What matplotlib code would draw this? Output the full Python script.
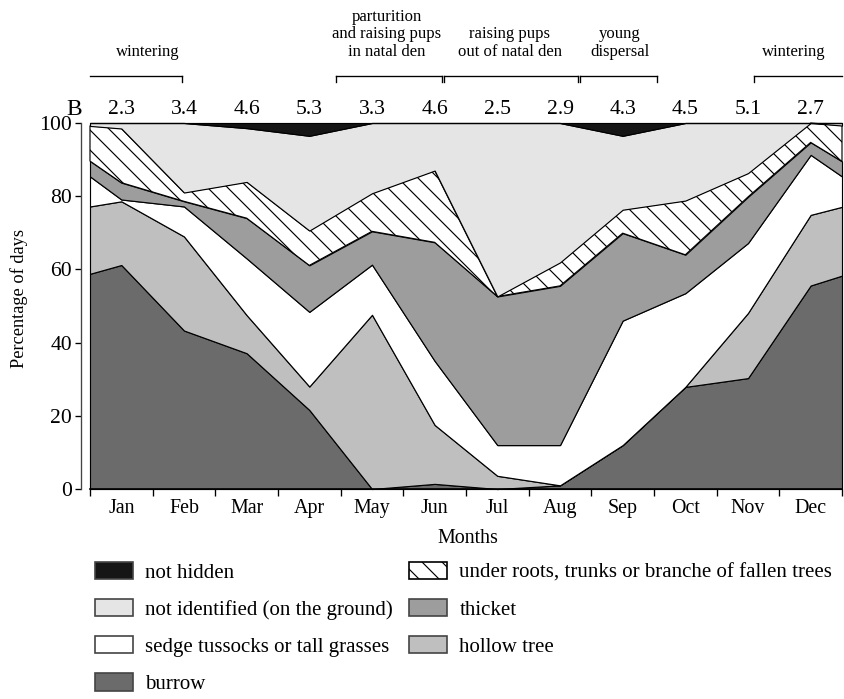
import numpy as np
import matplotlib.pyplot as plt
from matplotlib.patches import Patch

plt.rcParams['font.family'] = ['Liberation Serif', 'DejaVu Serif']
plt.rcParams['hatch.linewidth'] = 0.7

months = ['Jan', 'Feb', 'Mar', 'Apr', 'May', 'Jun', 'Jul', 'Aug', 'Sep', 'Oct', 'Nov', 'Dec']
b_values = ['2.3', '3.4', '4.6', '5.3', '3.3', '4.6', '2.5', '2.9', '4.3', '4.5', '5.1', '2.7']

# percentage of days; first and last value = year boundary at the plot edges, then Jan..Dec
burrow = [58.8, 61.2, 43.3, 37.1, 21.6, 0.0, 1.4, 0.0, 1.0, 12.0, 27.9, 30.3, 55.6, 58.3]
hollow_tree = [18.4, 17.4, 25.7, 10.4, 6.4, 47.6, 16.1, 3.6, 0.0, 0.0, 0.0, 17.8, 19.3, 18.8]
sedge = [8.2, 0.5, 8.2, 15.5, 20.4, 13.7, 17.5, 8.4, 11.0, 34.0, 25.6, 19.1, 16.4, 8.3]
thicket = [4.2, 4.6, 1.4, 11.0, 12.7, 9.1, 32.4, 40.6, 43.5, 23.9, 10.5, 12.6, 3.4, 4.1]
fallen_trees = [9.6, 14.8, 2.4, 9.9, 9.5, 10.4, 19.6, 0.0, 6.4, 6.4, 14.8, 6.5, 5.3, 9.8]
not_identified = [0.8, 1.5, 19.0, 14.7, 25.9, 19.2, 13.0, 47.4, 38.1, 20.2, 21.2, 13.7, 0.0, 0.7]
not_hidden = [0, 0, 0, 1.4, 3.5, 0, 0, 0, 0, 3.5, 0, 0, 0, 0]

# life periods (month units, 0 = middle of Jan)
period_labels = ['wintering', 'parturition\nand raising pups\nin natal den',
                 'raising pups\nout of natal den', 'young\ndispersal', 'wintering']
period_start = [-0.5, 3.42, 5.15, 7.32, 10.1]
period_end = [0.97, 5.12, 7.29, 8.55, 11.5]
period_text_x = [0.42, 4.24, 6.2, 7.95, 10.73]

x = [-0.5] + list(range(12)) + [11.5]

fig = plt.figure(figsize=(844 / 120, 699 / 120), dpi=120)
ax = fig.add_axes([90 / 844, 1 - 489 / 699, 752 / 844, 366 / 699])

layers = [burrow, hollow_tree, sedge, thicket, fallen_trees, not_identified, not_hidden]
colors = ['#6b6b6b', '#bebfbe', 'white', '#9d9d9d', 'white', '#e5e5e5', '#151515']
polys = ax.stackplot(x, layers, colors=colors, edgecolor='black', linewidth=0.7)
polys[4].set_hatch('\\\\')
for p in polys:
    p.set_clip_on(False)

ax.set_xlim(-0.5, 11.5)
ax.set_ylim(0, 100)
ax.spines[['top', 'right']].set_visible(False)
ax.spines['left'].set_position(('outward', 5.4))
ax.spines['left'].set_linewidth(0.8)
ax.spines['left'].set_color('#444444')
ax.spines['bottom'].set_linewidth(1.0)

ax.set_xticks(np.arange(-0.5, 12, 1))
ax.set_xticklabels([])
ax.set_xticks(range(12), minor=True)
ax.set_xticklabels(months, minor=True, fontsize=12)
ax.tick_params(axis='x', which='major', length=4, width=0.8)
ax.tick_params(axis='x', which='minor', length=0, pad=6)
ax.set_yticks(range(0, 101, 20))
ax.tick_params(axis='y', length=3.5, width=0.8, pad=2, labelsize=13)

ax.set_ylabel('Percentage of days', fontsize=11)
ax.yaxis.set_label_coords(-0.082, 0.52)
ax.set_xlabel('Months', fontsize=12)
ax.xaxis.set_label_coords(0.503, -0.11)

ax.text(-0.76, 103.6, 'B', ha='center', va='center', fontsize=14, clip_on=False)
for i, b in enumerate(b_values):
    ax.text(i, 103.6, b, ha='center', va='center', fontsize=13, clip_on=False)

for k, lab in enumerate(period_labels):
    s, e = period_start[k], period_end[k]
    ax.plot([s, e], [112.9, 112.9], color='black', lw=0.8, clip_on=False)
    if s > -0.5:
        ax.plot([s, s], [112.9, 111.3], color='black', lw=0.8, clip_on=False)
    if e < 11.5:
        ax.plot([e, e], [112.9, 111.3], color='black', lw=0.8, clip_on=False)
    ax.text(period_text_x[k], 117.3, lab, ha='center', va='bottom', fontsize=10,
            linespacing=1.12, clip_on=False)

handles = [
    Patch(facecolor='#151515', edgecolor='#444444', label='not hidden'),
    Patch(facecolor='#e5e5e5', edgecolor='#444444', label='not identified (on the ground)'),
    Patch(facecolor='white', edgecolor='#444444', label='sedge tussocks or tall grasses'),
    Patch(facecolor='#6b6b6b', edgecolor='#444444', label='burrow'),
    Patch(facecolor='white', edgecolor='black', hatch='\\\\',
          label='under roots, trunks or branche of fallen trees'),
    Patch(facecolor='#9d9d9d', edgecolor='#444444', label='thicket'),
    Patch(facecolor='#bebfbe', edgecolor='#444444', label='hollow tree'),
]
fig.legend(handles=handles, ncol=2, loc='upper left', bbox_to_anchor=(95 / 844, 1 - 562 / 699),
           frameon=False, fontsize=12.5, handlelength=1.8, handleheight=0.9,
           handletextpad=0.6, labelspacing=0.78, columnspacing=0.8, borderpad=0,
           borderaxespad=0)

fig.savefig('out.png', dpi=120)
